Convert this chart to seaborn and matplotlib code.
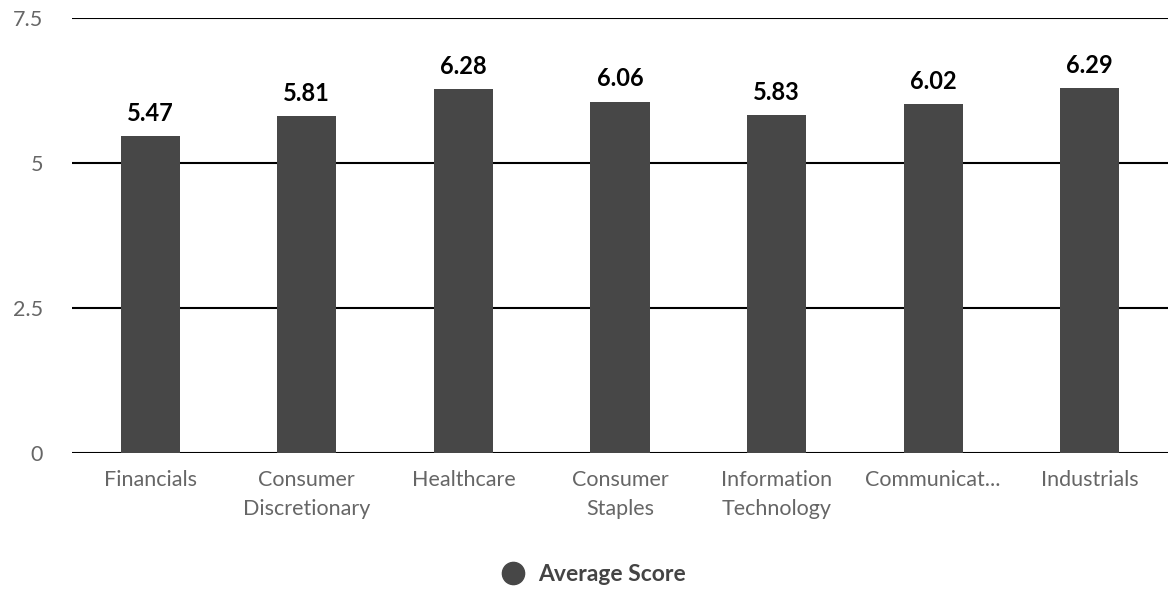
import pandas as pd
import matplotlib.pyplot as plt
import seaborn as sns
from matplotlib.lines import Line2D

# Data
sectors = ["Financials", "Consumer\nDiscretionary", "Healthcare", "Consumer\nStaples",
           "Information\nTechnology", "Communicat...", "Industrials"]
scores = [5.47, 5.81, 6.28, 6.06, 5.83, 6.02, 6.29]
yticks = [0, 2.5, 5, 7.5]
ytick_labels = ["0", "2.5", "5", "7.5"]

df = pd.DataFrame({"sector": sectors, "score": scores})

sns.set_style("white")
plt.rcParams['font.family'] = ['Lato', 'DejaVu Sans']

bar_color = "#474747"

fig = plt.figure(figsize=(11.68, 5.89), dpi=100)
ax = fig.add_axes([72 / 1168, 1 - 453 / 589, 1 - 72 / 1168, (453 - 18) / 589])

sns.barplot(data=df, x="sector", y="score", color=bar_color, width=0.377,
            saturation=1, linewidth=0, ax=ax, zorder=3)

ax.set_ylim(0, 7.5)
ax.set_xlim(-0.5, len(sectors) - 0.5)
ax.set_yticks(yticks)
ax.set_yticklabels(ytick_labels)
for y in yticks:
    ax.axhline(y, color="black", linewidth=1.5, zorder=1)

for s in ax.spines.values():
    s.set_visible(False)

ax.tick_params(axis="y", length=0, pad=21, labelsize=15.5, labelcolor="#666666")
ax.tick_params(axis="x", length=0, pad=12, labelsize=15.5, labelcolor="#666666")
for lbl in ax.get_xticklabels():
    lbl.set_linespacing(1.6)
ax.set_xlabel("")
ax.set_ylabel("")

for container in ax.containers:
    ax.bar_label(container, fmt="%.2f", padding=8, fontsize=17, fontweight="bold",
                 color="black")

handle = Line2D([], [], marker="o", linestyle="", markersize=16, color=bar_color)
fig.legend([handle], ["Average Score"], loc="center", bbox_to_anchor=(588 / 1168, 0.025),
           frameon=False, handletextpad=0.1,
           prop={"size": 16.5, "weight": "bold"}, labelcolor="#444444")

plt.savefig("out.png", dpi=100)
plt.close()
